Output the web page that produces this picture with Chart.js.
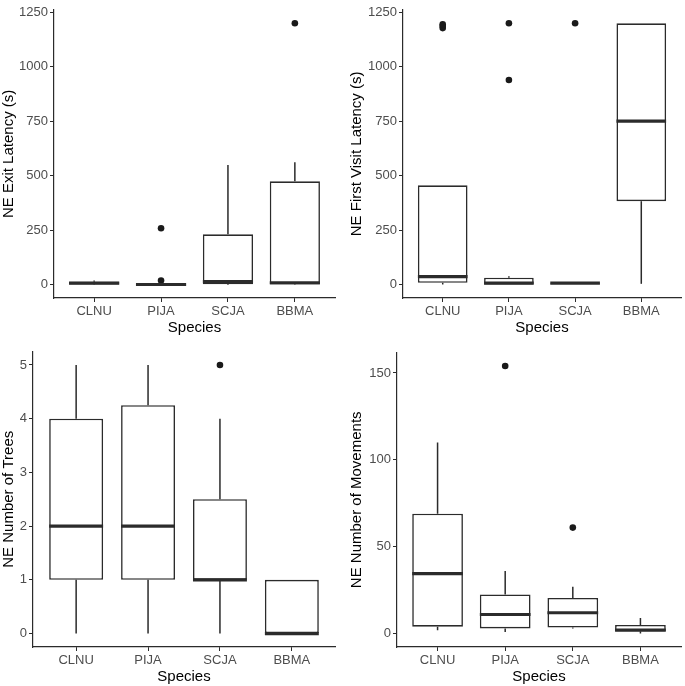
<!DOCTYPE html>
<html>
<head>
<meta charset="utf-8">
<script src="https://cdn.jsdelivr.net/npm/chart.js@4/dist/chart.umd.min.js"></script>
<style>
  body { margin: 0; background: #fff; }
  #wrap { position: relative; width: 685px; height: 686px; }
  canvas { position: absolute; }
</style>
</head>
<body>
<div id="wrap">
  <canvas id="c1" width="342" height="340" style="left:0;top:0"></canvas>
  <canvas id="c2" width="343" height="340" style="left:342px;top:0"></canvas>
  <canvas id="c3" width="342" height="346" style="left:0;top:340px"></canvas>
  <canvas id="c4" width="343" height="346" style="left:342px;top:340px"></canvas>
</div>
<script>
const species = ['CLNU', 'PIJA', 'SCJA', 'BBMA'];

// NE Exit Latency (s)
const exitMin = [0, 0, 0, 5];
const exitQ1 = [2, 0, 3, 2];
const exitMed = [8, 2, 15, 10];
const exitQ3 = [14, 6, 232, 475];
const exitMax = [20, 8, 550, 563];
const exitOut = [[], [20, 260], [], [1200]];
const exitTicks = [0, 250, 500, 750, 1000, 1250];

// NE First Visit Latency (s)
const visitMin = [2, 0, 5, 5];
const visitQ1 = [10, 0, 5, 384];
const visitMed = [38, 8, 8, 751];
const visitQ3 = [457, 33, 10, 1200];
const visitMax = [457, 40, 10, 1200];
const visitOut = [[1178, 1188, 1195], [940, 1200], [1200], []];
const visitTicks = [0, 250, 500, 750, 1000, 1250];

// NE Number of Trees
const treesMin = [0, 0, 0, 0];
const treesQ1 = [1, 1, 1, 0];
const treesMed = [2, 2, 1, 0];
const treesQ3 = [4, 4.25, 2.5, 1];
const treesMax = [5, 5, 4, 1];
const treesOut = [[], [], [5], []];
const treesTicks = [0, 1, 2, 3, 4, 5];

// NE Number of Movements
const moveMin = [2, 1, 3, 0];
const moveQ1 = [4, 3, 3.5, 1.3];
const moveMed = [34.5, 11, 12, 2];
const moveQ3 = [69, 22.5, 20.5, 5];
const moveMax = [110, 36, 27, 9];
const moveOut = [[], [154], [61], []];
const moveTicks = [0, 50, 100, 150];

const FONT = "'Liberation Sans', Arial, Helvetica, sans-serif";
const DARK = '#2b2b2b';

const boxPlugin = {
  id: 'boxParts',
  afterDatasetsDraw(chart, args, opts) {
    const xs = chart.scales.x, ys = chart.scales.y, ctx = chart.ctx;
    const half = (xs.getPixelForValue(1.375) - xs.getPixelForValue(0.625)) / 2;
    ctx.save();
    ctx.strokeStyle = DARK;
    opts.med.forEach((m, i) => {
      const cx = xs.getPixelForValue(i + 1);
      ctx.lineWidth = 1.5;
      ctx.beginPath();
      ctx.moveTo(cx, ys.getPixelForValue(opts.min[i]));
      ctx.lineTo(cx, ys.getPixelForValue(opts.q1[i]));
      ctx.moveTo(cx, ys.getPixelForValue(opts.q3[i]));
      ctx.lineTo(cx, ys.getPixelForValue(opts.max[i]));
      ctx.stroke();
      ctx.lineWidth = 3.2;
      ctx.beginPath();
      const my = ys.getPixelForValue(m);
      ctx.moveTo(cx - half, my);
      ctx.lineTo(cx + half, my);
      ctx.stroke();
    });
    ctx.restore();
  }
};

function makeBox(id, title, min, q1, med, q3, max, out, ticks, yMin, yMax, pad, yWidth, xHeight, titleBottom) {
  const boxes = species.map((s, i) => ({ x: i + 1, y: [q1[i], q3[i]] }));
  const pts = [];
  out.forEach((arr, i) => arr.forEach(v => pts.push({ x: i + 1, y: v })));
  new Chart(document.getElementById(id), {
    type: 'bar',
    data: {
      datasets: [{
        type: 'bar',
        data: boxes,
        backgroundColor: '#ffffff',
        borderColor: DARK,
        borderWidth: 1.6,
        borderSkipped: false,
        barPercentage: 0.75,
        categoryPercentage: 1
      }, {
        type: 'scatter',
        data: pts,
        pointRadius: 3.3,
        pointBackgroundColor: '#1a1a1a',
        pointBorderWidth: 0,
        showLine: false
      }]
    },
    options: {
      responsive: false,
      animation: false,
      devicePixelRatio: 1,
      layout: { padding: pad },
      plugins: {
        legend: { display: false },
        tooltip: { enabled: false },
        boxParts: { min: min, q1: q1, med: med, q3: q3, max: max }
      },
      scales: {
        x: {
          type: 'linear',
          min: 0.4,
          max: 4.6,
          offset: false,
          afterBuildTicks: s => { s.ticks = species.map((n, i) => ({ value: i + 1 })); },
          afterFit: s => { s.height = xHeight; },
          ticks: {
            callback: v => species[v - 1],
            color: '#4d4d4d',
            font: { family: FONT, size: 13 },
            padding: 2,
            maxRotation: 0
          },
          grid: { display: true, drawOnChartArea: false, drawTicks: true, tickLength: 4, color: DARK, offset: false },
          border: { display: true, color: DARK, width: 1.2 },
          title: { display: true, text: 'Species', color: '#000', font: { family: FONT, size: 15 }, padding: { top: 0, bottom: titleBottom } }
        },
        y: {
          min: yMin,
          max: yMax,
          afterBuildTicks: s => { s.ticks = ticks.map(v => ({ value: v })); },
          afterFit: s => { s.width = yWidth; },
          ticks: {
            callback: v => String(v),
            color: '#4d4d4d',
            font: { family: FONT, size: 13 },
            padding: 2
          },
          grid: { display: true, drawOnChartArea: false, drawTicks: true, tickLength: 4, color: DARK },
          border: { display: true, color: DARK, width: 1.2 },
          title: { display: true, text: title, color: '#000', font: { family: FONT, size: 15 }, padding: { top: 0, bottom: 0 } }
        }
      }
    },
    plugins: [boxPlugin]
  });
}

makeBox('c1', 'NE Exit Latency (s)', exitMin, exitQ1, exitMed, exitQ3, exitMax, exitOut, exitTicks,
  -60, 1262, { left: 0, right: 7, top: 3, bottom: 0 }, 54, 42, 3);
makeBox('c2', 'NE First Visit Latency (s)', visitMin, visitQ1, visitMed, visitQ3, visitMax, visitOut, visitTicks,
  -60, 1262, { left: 6, right: 1, top: 3, bottom: 0 }, 55, 42, 3);
makeBox('c3', 'NE Number of Trees', treesMin, treesQ1, treesMed, treesQ3, treesMax, treesOut, treesTicks,
  -0.25, 5.25, { left: 0, right: 7, top: 11.5, bottom: 0 }, 33, 39, 0);
makeBox('c4', 'NE Number of Movements', moveMin, moveQ1, moveMed, moveQ3, moveMax, moveOut, moveTicks,
  -7.7, 161.7, { left: 6, right: 0, top: 12.6, bottom: 0 }, 49, 39, 0);
</script>
</body>
</html>
